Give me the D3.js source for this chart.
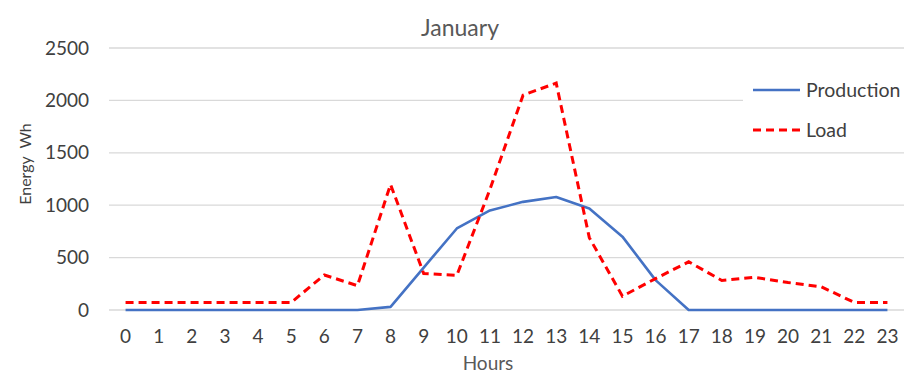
<!DOCTYPE html>
<html>
<head>
<meta charset="utf-8">
<script src="https://cdn.jsdelivr.net/npm/d3@7"></script>
<style>
  body { margin: 0; background: #fff; }
  svg { font-family: Lato, "Open Sans", sans-serif; }
</style>
</head>
<body>
<div id="chart"></div>
<script>
// Data
const hours = d3.range(0, 24).map(String);
const production = [0, 0, 0, 0, 0, 0, 0, 0, 30, 405, 778, 950, 1032, 1078, 968, 700, 285, 0, 0, 0, 0, 0, 0, 0];
const load = [72, 72, 72, 72, 72, 72, 334, 232, 1198, 348, 330, 1150, 2050, 2165, 690, 132, 300, 460, 282, 312, 262, 222, 72, 72];
const yTicks = [0, 500, 1000, 1500, 2000, 2500];

const W = 924, H = 386;
const margin = { top: 48, right: 20, bottom: 76, left: 109 };
const width = W - margin.left - margin.right;
const height = H - margin.top - margin.bottom;

const svg = d3.select("#chart").append("svg")
    .attr("width", W)
    .attr("height", H);

const g = svg.append("g")
    .attr("transform", `translate(${margin.left}, ${margin.top})`);

// Scales
const x = d3.scaleBand().domain(hours).range([0, width]);
const y = d3.scaleLinear().domain([0, 2500]).range([height, 0]);
const cx = d => x(d) + x.bandwidth() / 2;

// Gridlines
g.append("g")
    .selectAll("line")
    .data(yTicks)
    .join("line")
    .attr("x1", 0)
    .attr("x2", width)
    .attr("y1", d => y(d))
    .attr("y2", d => y(d))
    .attr("stroke", "#d9d9d9")
    .attr("stroke-width", 1.3);

// Y axis labels
const yAxis = g.append("g")
    .call(d3.axisLeft(y).tickValues(yTicks).tickFormat(d3.format("d")).tickSize(0).tickPadding(20));
yAxis.select(".domain").remove();
yAxis.selectAll("text")
    .style("font-size", "19px")
    .style("font-family", "Lato, sans-serif")
    .attr("fill", "#404040");

// X axis labels
const xAxis = g.append("g")
    .attr("transform", `translate(0, ${height})`)
    .call(d3.axisBottom(x).tickSize(0).tickPadding(20));
xAxis.select(".domain").remove();
xAxis.selectAll("text")
    .style("font-size", "19px")
    .style("font-family", "Lato, sans-serif")
    .attr("fill", "#404040");

// Lines
const line = d3.line()
    .x((d, i) => cx(hours[i]))
    .y(d => y(d));

g.append("path")
    .datum(production)
    .attr("fill", "none")
    .attr("stroke", "#4472C4")
    .attr("stroke-width", 2.6)
    .attr("stroke-linejoin", "round")
    .attr("d", line);

g.append("path")
    .datum(load)
    .attr("fill", "none")
    .attr("stroke", "#FF0000")
    .attr("stroke-width", 3)
    .attr("stroke-dasharray", "8,5")
    .attr("d", line);

// Title
svg.append("text")
    .attr("x", 460)
    .attr("y", 36)
    .attr("text-anchor", "middle")
    .style("font-size", "23px")
    .attr("fill", "#595959")
    .text("January");

// Axis titles
svg.append("text")
    .attr("x", 488)
    .attr("y", 370)
    .attr("text-anchor", "middle")
    .style("font-size", "19px")
    .attr("fill", "#595959")
    .text("Hours");

svg.append("text")
    .attr("transform", "translate(31, 164) rotate(-90)")
    .attr("text-anchor", "middle")
    .style("font-size", "16px")
    .style("white-space", "pre")
    .attr("fill", "#404040")
    .text("Energy  Wh");

// Legend
const legend = svg.append("g")
    .attr("transform", "translate(743, 70)");

legend.append("rect")
    .attr("width", 161)
    .attr("height", 78)
    .attr("fill", "#fff");

legend.append("line")
    .attr("x1", 10).attr("x2", 57)
    .attr("y1", 20).attr("y2", 20)
    .attr("stroke", "#4472C4")
    .attr("stroke-width", 2.6);

legend.append("text")
    .attr("x", 63)
    .attr("y", 27)
    .style("font-size", "19.5px")
    .attr("fill", "#404040")
    .text("Production");

legend.append("line")
    .attr("x1", 10).attr("x2", 57)
    .attr("y1", 60).attr("y2", 60)
    .attr("stroke", "#FF0000")
    .attr("stroke-width", 3)
    .attr("stroke-dasharray", "8,5");

legend.append("text")
    .attr("x", 63)
    .attr("y", 67)
    .style("font-size", "19.5px")
    .attr("fill", "#404040")
    .text("Load");
</script>
</body>
</html>
